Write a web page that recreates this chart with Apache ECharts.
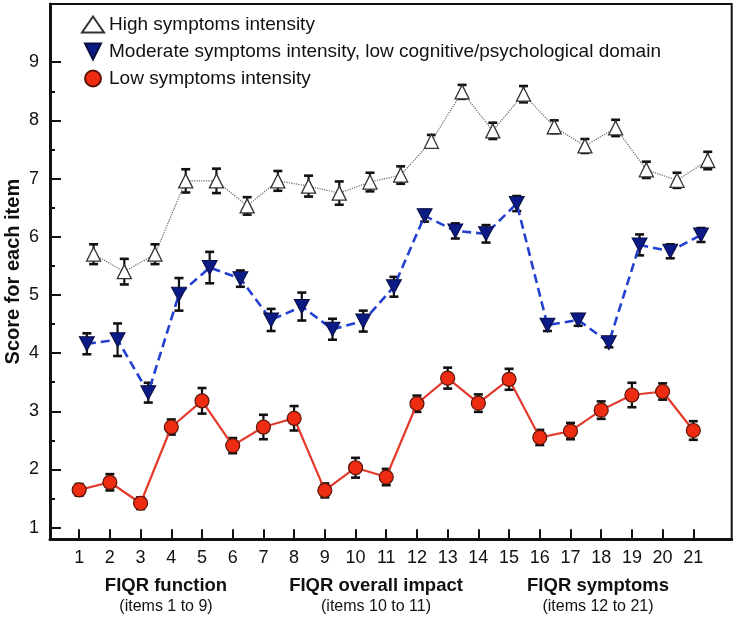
<!DOCTYPE html>
<html>
<head>
<meta charset="utf-8">
<script src="https://cdn.jsdelivr.net/npm/echarts@6/dist/echarts.min.js"></script>
<style>
html,body{margin:0;padding:0;background:#fff;}
#chart{width:739px;height:620px;}
</style>
</head>
<body>
<div id="chart"></div>
<script>
// ---- data ----
const items = [1,2,3,4,5,6,7,8,9,10,11,12,13,14,15,16,17,18,19,20,21];
const seriesNames = ['High symptoms intensity', 'Moderate symptoms intensity, low cognitive/psychological domain', 'Low symptoms intensity'];
const highMean = [5.70,5.40,5.70,6.96,6.96,6.53,6.96,6.87,6.75,6.94,7.06,7.64,8.49,7.82,8.45,7.89,7.56,7.87,7.15,6.97,7.31];
const highErr  = [0.17,0.22,0.17,0.20,0.21,0.15,0.17,0.18,0.20,0.16,0.15,0.11,0.12,0.14,0.14,0.11,0.12,0.14,0.14,0.13,0.15];
const modMean  = [4.16,4.23,3.32,5.01,5.47,5.28,4.57,4.80,4.41,4.55,5.14,6.36,6.10,6.05,6.57,4.48,4.57,4.18,5.86,5.75,6.03];
const modErr   = [0.18,0.28,0.17,0.28,0.27,0.14,0.19,0.24,0.18,0.18,0.17,0.10,0.13,0.15,0.13,0.10,0.10,0.08,0.18,0.12,0.12];
const lowMean  = [1.65,1.78,1.42,2.73,3.18,2.41,2.73,2.88,1.64,2.03,1.87,3.13,3.57,3.14,3.55,2.55,2.66,3.02,3.28,3.34,2.67];
const lowErr   = [0.10,0.14,0.10,0.13,0.22,0.13,0.21,0.21,0.12,0.17,0.14,0.14,0.18,0.15,0.18,0.13,0.14,0.15,0.21,0.14,0.16];
const yTicks = [1,2,3,4,5,6,7,8,9];
const yMinorTicks = [1.5,2.5,3.5,4.5,5.5,6.5,7.5,8.5];
const groupTitles = ['FIQR function', 'FIQR overall impact', 'FIQR symptoms'];
const groupSubtitles = ['(items 1 to 9)', '(items 10 to 11)', '(items 12 to 21)'];
const yTitle = 'Score for each item';

// horizontal dodge of the series (in item units)
const dodge = {high: 0.47, mod: 0.25, low: 0};

function points(mean, off){ return items.map((it,i)=>[it+off, mean[i]]); }
function bars(mean, err, off){ return items.map((it,i)=>[it+off, mean[i]-err[i], mean[i]+err[i]]); }

function errRender(params, api){
  const x = api.value(0), lo = api.value(1), hi = api.value(2);
  const a = api.coord([x, lo]), b = api.coord([x, hi]);
  const cw = 4.5;
  return {type:'group', children:[
    {type:'line', shape:{x1:a[0],y1:a[1],x2:b[0],y2:b[1]}, style:{stroke:'#111', lineWidth:2.2}},
    {type:'line', shape:{x1:a[0]-cw,y1:a[1],x2:a[0]+cw,y2:a[1]}, style:{stroke:'#111', lineWidth:2.6}},
    {type:'line', shape:{x1:b[0]-cw,y1:b[1],x2:b[0]+cw,y2:b[1]}, style:{stroke:'#111', lineWidth:2.6}}
  ]};
}

const downTri = 'path://M0,0 L10,0 L5,10 Z';
const font = '"Liberation Sans", Arial, sans-serif';

const chart = echarts.init(document.getElementById('chart'), null, {renderer:'canvas'});

const option = {
  animation:false,
  textStyle:{fontFamily:font},
  grid:{left:50, right:7.3, top:4, bottom:80.7, containLabel:false, outerBoundsMode:'none',
        show:true, borderColor:'#111', borderWidth:2, backgroundColor:'transparent'},
  legend:{
    orient:'vertical', left:76, top:10, itemGap:8, itemWidth:22, itemHeight:16,
    textStyle:{fontSize:19, color:'#111', fontFamily:font},
    data:[
      {name:seriesNames[0], icon:'triangle'},
      {name:seriesNames[1], icon:downTri},
      {name:seriesNames[2], icon:'circle'}
    ]
  },
  xAxis:{
    type:'value', min:0.05, max:22.25,
    axisLine:{show:true, onZero:false, lineStyle:{color:'#111', width:3}},
    axisTick:{show:true, inside:true, length:10, customValues:items, lineStyle:{color:'#111', width:2}},
    axisLabel:{show:true, customValues:items, margin:10, fontSize:18, color:'#111', fontFamily:font},
    splitLine:{show:false}
  },
  yAxis:[{
    type:'value', min:0.8, max:10,
    name:yTitle, nameLocation:'middle', nameGap:27, nameRotate:90, nameMoveOverlap:false,
    nameTextStyle:{fontSize:20, fontWeight:'bold', color:'#111', fontFamily:font},
    axisLine:{show:true, onZero:false, lineStyle:{color:'#111', width:3}},
    axisTick:{show:true, inside:true, length:11, customValues:yTicks, lineStyle:{color:'#111', width:2}},
    axisLabel:{show:true, customValues:yTicks, margin:11, fontSize:18, color:'#111', fontFamily:font},
    splitLine:{show:false}
  },{
    type:'value', min:0.8, max:10, position:'left',
    axisLine:{show:false},
    axisTick:{show:true, inside:true, length:5, customValues:yMinorTicks, lineStyle:{color:'#111', width:2}},
    axisLabel:{show:false},
    splitLine:{show:false}
  }],
  series:[
    {type:'custom', name:'errHigh', renderItem:errRender, data:bars(highMean,highErr,dodge.high), encode:{x:0,y:[1,2]}, z:3, silent:true},
    {type:'custom', name:'errMod', renderItem:errRender, data:bars(modMean,modErr,dodge.mod), encode:{x:0,y:[1,2]}, z:3, silent:true},
    {type:'custom', name:'errLow', renderItem:errRender, data:bars(lowMean,lowErr,dodge.low), encode:{x:0,y:[1,2]}, z:3, silent:true},
    {type:'line', name:seriesNames[0], data:points(highMean,dodge.high), symbol:'triangle', symbolSize:[14,14], showAllSymbol:true,
      lineStyle:{color:'#666', width:1.2, type:'dotted'},
      itemStyle:{color:'#fff', borderColor:'#333', borderWidth:1.3}, z:4},
    {type:'line', name:seriesNames[1], data:points(modMean,dodge.mod), symbol:downTri, symbolSize:[15,14], showAllSymbol:true,
      lineStyle:{color:'#2440d0', width:2.6, type:[9,5]},
      itemStyle:{color:'#0c1a86', borderColor:'#0a0f40', borderWidth:1}, z:4},
    {type:'line', name:seriesNames[2], data:points(lowMean,dodge.low), symbol:'circle', symbolSize:14, showAllSymbol:true,
      lineStyle:{color:'#e23a2c', width:2.2},
      itemStyle:{color:'#ee2c12', borderColor:'#5a1508', borderWidth:1.2}, z:4}
  ],
  graphic:[]
};

const groupCenters = [166, 376, 598];
groupTitles.forEach((t,i)=>{
  option.graphic.push({type:'text', x:groupCenters[i], y:586, style:{text:t, font:'bold 18.5px "Liberation Sans", Arial, sans-serif', fill:'#111', textAlign:'center', textVerticalAlign:'middle'}});
  option.graphic.push({type:'text', x:groupCenters[i], y:607, style:{text:groupSubtitles[i], font:'16px "Liberation Sans", Arial, sans-serif', fill:'#111', textAlign:'center', textVerticalAlign:'middle'}});
});

chart.setOption(option);
</script>
</body>
</html>
